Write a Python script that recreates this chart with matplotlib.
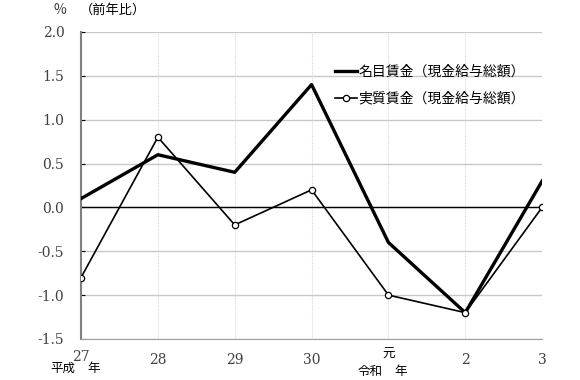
import numpy as np
import matplotlib.pyplot as plt

plt.rcParams['font.family'] = ['Noto Sans CJK JP', 'DejaVu Sans']

years = ["27", "28", "29", "30", "元", "2", "3"]
nominal = [0.1, 0.6, 0.4, 1.4, -0.4, -1.2, 0.3]
real = [-0.8, 0.8, -0.2, 0.2, -1.0, -1.2, 0.0]
yticks = [2.0, 1.5, 1.0, 0.5, 0.0, -0.5, -1.0, -1.5]

fig = plt.figure(figsize=(5.8, 3.8), dpi=100)
ax = fig.add_axes([0.1397, 0.108, 0.795, 0.808])

x = np.arange(len(years))
ax.set_xlim(0, len(years) - 1)
ax.set_ylim(-1.5, 2.0)

for yv in yticks:
    ax.axhline(yv, color="#c8c8c8", lw=1.0, zorder=0)
for xv in x[1:]:
    ax.axvline(xv, color="#d8d8d8", lw=0.8, ls=(0, (1, 1)), zorder=0)
ax.axhline(0, color="black", lw=1.0, zorder=1)

ax.plot(x, nominal, color="black", lw=2.4, label="名目賃金（現金給与総額）", zorder=3)
ax.plot(x, real, color="black", lw=1.2, marker="o", ms=4.5, mfc="white",
        mec="black", mew=0.9, label="実質賃金（現金給与総額）", zorder=4)

for s in ["top", "right"]:
    ax.spines[s].set_visible(False)
ax.spines["left"].set_color("#808080")
ax.spines["left"].set_linewidth(1.5)
ax.spines["bottom"].set_color("#a0a0a0")

ax.set_yticks(yticks)
ax.set_yticklabels([f"{v:.1f}" for v in yticks], family="DejaVu Serif",
                   fontsize=10, color="#404040")
ax.tick_params(axis="y", direction="in", length=3, pad=12)

ax.set_xticks(x)
ax.set_xticklabels(["", "28", "29", "30", "", "2", "3"], family="DejaVu Serif",
                   fontsize=10, color="#404040")
ax.tick_params(axis="x", length=0, pad=10)

tr = ax.get_xaxis_transform()
ax.text(0, -0.035, "27", transform=tr, ha="center", va="top",
        family="DejaVu Serif", fontsize=10, color="#404040")
ax.text(-0.08, -0.075, "平成", transform=tr, ha="right", va="top", fontsize=9)
ax.text(0.08, -0.075, "年", transform=tr, ha="left", va="top", fontsize=9)
ax.text(4, -0.03, "元", transform=tr, ha="center", va="top", fontsize=9)
ax.text(3.92, -0.085, "令和", transform=tr, ha="right", va="top", fontsize=9)
ax.text(4.08, -0.085, "年", transform=tr, ha="left", va="top", fontsize=9)

fig.text(0.103, 0.973, "%", ha="center", va="center", fontsize=10, color="#404040")
fig.text(0.195, 0.973, "（前年比）", ha="center", va="center", fontsize=9.5)

leg = ax.legend(loc="upper right", bbox_to_anchor=(0.99, 0.935), frameon=False,
                fontsize=10, handlelength=1.6, handletextpad=0.1, labelspacing=0.95)

fig.savefig("out.png", dpi=100)
